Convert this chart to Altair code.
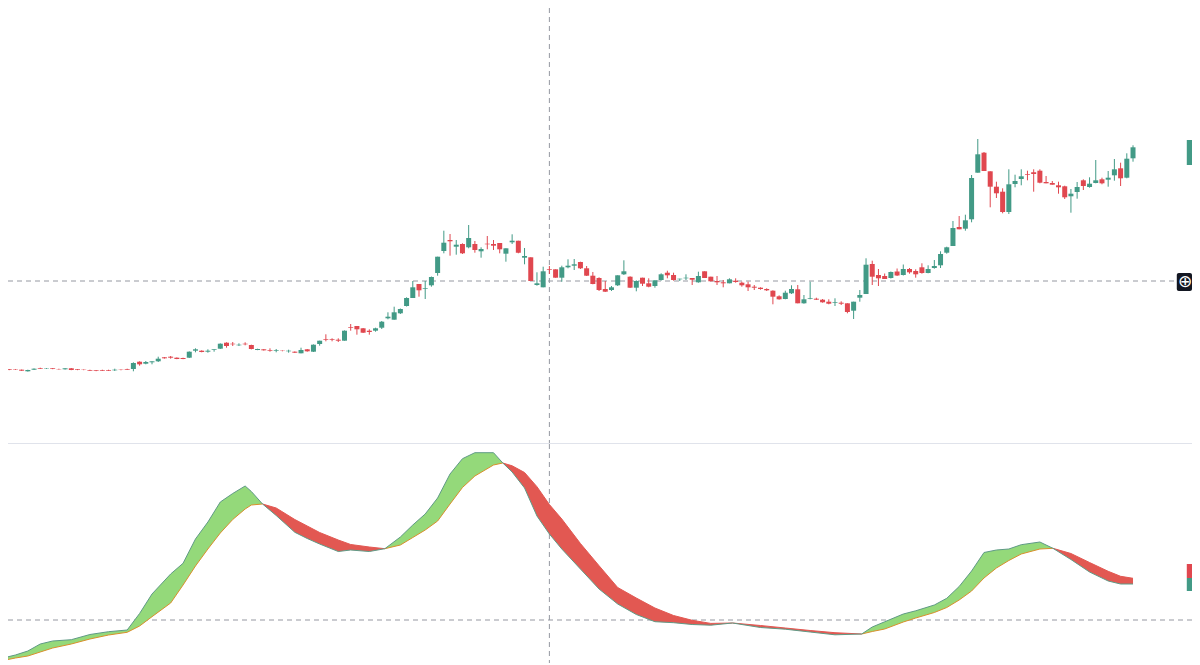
import altair as alt
import pandas as pd

UP = "#429a86"
DOWN = "#e0474f"

opens = [
    75, 74.7, 74.7, 74.3, 72.7, 74.3, 76, 75.3, 75.7, 75, 74.7, 75.7, 74.7, 74.3, 74, 73.7,
    74, 74, 73.7, 74.3, 75, 75, 82.3, 80.3, 81.7, 82.7, 86.7, 87.3, 86.3, 86, 86.3, 93.3,
    93.3, 92.3, 94, 95.3, 101.3, 100.3, 98.7, 100.3, 99, 94, 94.7, 94, 93, 93.3, 92.7, 92.3,
    90.7, 94.7, 92.3, 100, 105, 104.7, 104.3, 103.3, 116.7, 118, 115.7, 113.3, 113.3, 116.3, 125.7, 124.3,
    130.7, 138, 146, 160, 155, 158.7, 171, 193, 204, 197.3, 200, 196.7, 200, 192.7, 200.3, 200,
    201, 190.3, 201.7, 203.3, 186.3, 186.7, 159, 156.7, 174.7, 174.7, 166.3, 176.7, 178.3, 182, 175.7, 168.3,
    166, 155, 154, 158.7, 169.7, 167.3, 156.3,
    166.3, 160.7, 158, 164, 171.3, 169, 164.7, 165.7, 166, 161.7, 172.7, 167.3, 163, 161.7, 160.7, 163.3,
    161.3, 159.7, 157.3, 156.3, 155, 153.3, 147.7, 145, 150.7, 154.7, 140.7, 145, 145.3, 144.3, 142.3, 141,
    141.3, 140.7, 133.3, 146.3, 150, 180, 169,
    168, 166, 172.5, 169, 175, 173, 176.7, 171, 176, 178.7, 191.3, 198, 217, 215.3, 224.7, 271.3,
    291.3, 272.7, 257.3, 252.3, 232, 260, 265, 270, 271.7, 273.3, 262, 261, 258.7, 257.7, 247.7, 252,
    263.7, 257, 261, 264.7, 264.3, 268.7, 275.7, 266.3, 285.7,
]
highs = [
    75.3, 75, 75, 74.5, 74.3, 75.6, 76.3, 75.9, 76, 75.3, 75.9, 76, 75, 74.6, 74.3, 74,
    74.3, 74.3, 75.3, 74.6, 75.3, 81.7, 82.7, 83, 82.7, 87.3, 87, 88, 86.6, 86.3, 92.6, 95.7,
    93.7, 94.7, 94.7, 100.6, 101.7, 102, 100.7, 101.7, 99.3, 95.3, 95, 95.7, 95, 93.6, 94.3, 92.6,
    96.3, 95, 99.6, 103.3, 109.7, 105.7, 105.7, 113.6, 120, 118, 116, 114.7, 116.3, 123, 131.7, 137.3,
    135.5, 146.7, 163, 160, 163, 167.5, 187.3, 213.3, 210, 204, 200.7, 219, 203, 196.7, 208, 204,
    201, 195.7, 209.7, 203.3, 196, 186.7, 171.7, 177.3, 178, 174.7, 178.3, 184.7, 185, 182.3, 178, 172,
    166.7, 163, 158, 168.7, 183.7, 167.7, 163.7,
    166.3, 165.7, 163.7, 170.7, 173.3, 171.3, 165.3, 169.7, 166, 172.3, 172.7, 167.3, 168, 164, 165.7, 165.7,
    162.3, 162.3, 159, 156.7, 155.7, 153.7, 148.7, 153.3, 158.7, 159, 149, 162.3, 146.3, 145, 144.7, 145.7,
    142.7, 140.7, 142.3, 154, 185.7, 183.3, 175,
    170.5, 172.5, 175.5, 179.5, 176, 174.7, 180.7, 178.7, 184, 192.7, 197.3, 223, 228, 229.3, 269, 305,
    292, 272.7, 262.3, 255.7, 274.7, 269.3, 274.7, 273.3, 274.7, 274.7, 268, 263, 262.3, 258.3, 255, 262,
    264.7, 266.7, 284, 266.3, 273, 285, 281.3, 290.7, 298.7,
]
lows = [
    74.6, 73.8, 74.1, 73, 72.4, 74, 75, 75, 74.8, 74.4, 74.4, 73.8, 73.8, 73.8, 73, 72.8,
    73, 73, 73, 73.7, 74, 72.7, 78.3, 79.7, 79.7, 82, 85.4, 85.3, 84.8, 84.8, 86, 91.7,
    91.7, 91.3, 92.3, 95, 96.3, 98, 98, 98.7, 94.6, 93.8, 93.4, 92.3, 91.7, 92.7, 91.3, 91,
    90.7, 92.3, 92, 98.3, 102.7, 102.7, 102, 103.3, 113.3, 109.3, 111, 109.3, 112.3, 115, 124.7, 124.3,
    130, 137.5, 146, 147.3, 145, 157.3, 168.3, 190.7, 188.3, 189.3, 190, 195.7, 191.3, 186.3, 194.7, 194,
    190.7, 182.3, 200, 190.7, 179.7, 163, 158.3, 156.7, 170, 166.3, 162.3, 175.7, 174, 175, 168, 159.7,
    153, 152, 153, 158, 169, 156, 152.7,
    158, 156.7, 156.3, 163.3, 165.7, 163.3, 163, 164, 159, 161.3, 166, 162.7, 159, 156.7, 160.7, 161.3,
    157.3, 153, 154, 154.3, 153, 139.7, 144.3, 144.7, 150, 140.7, 140.3, 144.7, 144, 141.3, 139.7, 138,
    139, 130.7, 125, 142.3, 150, 159, 158,
    165, 165.5, 168, 168.5, 170.3, 166.3, 170.3, 170.7, 175.3, 176, 190.3, 198, 214.7, 213.3, 221.7, 271.3,
    273, 236.7, 246, 230.7, 230, 256.7, 258.7, 263.7, 252.3, 260.7, 260.7, 259.3, 250.3, 245, 231.3, 245.3,
    254, 256.3, 260.7, 259.7, 257.3, 263.3, 258, 265.7, 282.3,
]
closes = [
    74.7, 74, 74.3, 73.3, 74, 75.3, 75.3, 75.7, 75, 74.7, 75.7, 74, 74, 74, 73.3, 73,
    73.3, 73.3, 74.3, 74, 74.3, 81, 79.7, 82, 82.7, 85.3, 85.7, 86.3, 85, 85, 92.3, 94.7,
    92, 93.3, 94.7, 100.3, 98, 99.7, 99.3, 99.7, 95, 95, 93.7, 93.3, 93.7, 93, 93.3, 91.3,
    94, 92.7, 99.3, 103.3, 104.3, 104, 103.3, 113.3, 116, 114.7, 111.3, 112, 115.7, 122.3, 127.3, 131.7,
    135, 146, 156.7, 153.7, 155.7, 167, 187.3, 201.3, 202.7, 199.3, 190.7, 206, 194, 195, 199.7, 198.3,
    194.7, 195.7, 203.3, 191.3, 188, 163, 160.7, 172.7, 174, 166.3, 176.7, 178.3, 179.7, 175.7, 168.3, 160,
    154, 152.3, 156.7, 168.7, 172.7, 156.3, 163,
    160.3, 157.3, 163.7, 169.7, 168.7, 164, 165.3, 166.3, 164.3, 168, 166, 162.7, 161.7, 160.7, 164.7, 162,
    158.7, 156.7, 156.3, 155, 153.7, 147.3, 144.7, 151.3, 155, 140.7, 144.7, 145.7, 144.3, 141.7, 140.3, 141.7,
    140.3, 132, 142.3, 149, 179.3, 167.3, 165.7,
    165, 172, 168.5, 175, 171.7, 169.7, 171, 175, 178, 190, 196.7, 216, 214.7, 223.7, 266, 289.7,
    273, 257.3, 250.7, 232, 259.7, 263, 267.7, 269.3, 270, 261.3, 260.7, 259.3, 256.7, 246.7, 250.3, 257,
    258, 260.3, 263.7, 260.7, 266.3, 274.7, 265.7, 285.3, 296.7,
]

# indicator, read at these bars
osc_bars = [
    0, 2, 4, 6, 8, 11, 14, 17, 20, 22, 24, 27, 29, 31, 33, 35, 37, 39, 40, 41.8,
    44, 47, 49, 51, 54, 56, 59, 61.5, 64, 66, 68, 70, 72, 74, 76, 79, 80.5, 82, 84, 86,
    88, 90, 93, 96, 99, 102, 105, 108, 111, 114, 117.5, 122, 126, 130, 134, 138.3, 140, 142, 145, 147,
    150, 152, 154, 156, 158, 160, 162, 164, 167, 169.1, 172, 175, 178, 180, 182,
]
osc_fast = [
    7, 10, 14, 21, 24, 25.3, 30.5, 33.3, 35, 51.5, 71, 91, 101.7, 126, 143, 163, 171.5, 179, 173.5, 161,
    149.5, 132.7, 126.5, 121, 113.5, 115, 113.5, 116.3, 128, 140, 151, 167, 191, 206.3, 212.3, 212.3, 202, 193, 177, 149,
    131, 116, 96, 76, 61, 50.5, 43.3, 42.3, 40.5, 39.8, 42, 37.5, 35.8, 33, 30.2, 31, 38, 43.2, 51, 54.2,
    60, 66.7, 78.5, 94, 112.5, 115, 116, 120.3, 123, 116.7, 105.5, 93, 84, 81, 81,
]
osc_slow = [
    4.5, 7, 9, 13, 17, 21, 26, 30, 32.7, 39, 48.3, 62, 80, 99, 116, 132, 145.5, 156, 160, 161,
    157, 145.5, 139, 132.5, 125, 120.5, 118, 116.3, 120, 127.5, 135, 144, 161, 177.5, 189, 200, 202, 199.2, 192.5, 178.3,
    160.5, 146, 121.5, 99.3, 77.5, 67, 57, 49.5, 44.7, 41.6, 42, 39.5, 37, 34.5, 32.3, 31, 33.5, 36, 43, 47,
    52.5, 57.5, 65, 74, 87, 97, 104.5, 111, 116, 116.7, 111.5, 102.5, 93.7, 88.7, 86.7,
]

PRICE_NOW = 163
OSC_LEVEL = 45
CROSS_BAR = 88
X_DOMAIN = (0.805, 191.5)
MARKER_BAR = 190.66
ICON_BAR = 189.05


def bar_colour(field_up):
    return alt.Color(field_up, scale=alt.Scale(domain=[True, False], range=[UP, DOWN]), legend=None)


def x_axis(field="bar:Q"):
    # padding=0, bars otherwise pad the continuous scale
    return alt.X(field, scale=alt.Scale(domain=X_DOMAIN, padding=0), axis=None)


def cross_rule():
    return (
        alt.Chart(pd.DataFrame({"bar": [CROSS_BAR]}))
        .mark_rule(color="#9598a1", strokeDash=[5, 4], strokeWidth=1, clip=True)
        .encode(x=x_axis())
    )


def level_rule(value, y_axis):
    return (
        alt.Chart(pd.DataFrame({"v": [value]}))
        .mark_rule(color="#9598a1", strokeDash=[5, 4], strokeWidth=1, clip=True)
        .encode(y=y_axis("v:Q"))
    )


def price_panel():
    """Candles in the upper pane."""
    df = pd.DataFrame({"open": opens, "high": highs, "low": lows, "close": closes})
    df["bar"] = df.index
    df["up"] = df["close"] >= df["open"]

    price_y = lambda f: alt.Y(f, scale=alt.Scale(domain=(0, 436)), axis=None)

    wicks = (
        alt.Chart(df)
        .mark_rule(strokeWidth=1, clip=True)
        .encode(x=x_axis(), y=price_y("low:Q"), y2="high:Q", color=bar_colour("up:N"))
    )
    bodies = (
        alt.Chart(df)
        .mark_bar(size=5, clip=True)
        .encode(x=x_axis(), y=price_y("open:Q"), y2="close:Q", color=bar_colour("up:N"))
    )
    divider = (
        alt.Chart(pd.DataFrame({"v": [0.5]}))
        .mark_rule(color="#e0e3eb", strokeWidth=1, clip=True)
        .encode(y=price_y("v:Q"))
    )
    marker = (
        alt.Chart(pd.DataFrame({"bar": [MARKER_BAR], "bar2": [X_DOMAIN[1]], "a": [279], "b": [304]}))
        .mark_rect(color=UP, clip=True)
        .encode(x=x_axis(), x2="bar2:Q", y=price_y("a:Q"), y2="b:Q")
    )
    icon_box = (
        alt.Chart(pd.DataFrame({"bar": [ICON_BAR], "bar2": [X_DOMAIN[1]], "a": [153], "b": [171]}))
        .mark_rect(color="#131722", cornerRadius=2, clip=True)
        .encode(x=x_axis(), x2="bar2:Q", y=price_y("a:Q"), y2="b:Q")
    )
    icon = (
        alt.Chart(pd.DataFrame({"bar": [190.4], "v": [162], "t": ["⊕"]}))
        .mark_text(color="white", fontSize=17, font="DejaVu Sans", clip=True)
        .encode(x=x_axis(), y=price_y("v:Q"), text="t:N")
    )

    return alt.layer(
        level_rule(PRICE_NOW, price_y), cross_rule(), divider, wicks, bodies, marker, icon_box, icon
    ).properties(width=1184, height=436)


def osc_panel():
    """Two lines with the gap filled, green when fast is on top, red when not."""
    rows = []
    segment = 0
    for i, (bar, fast, slow) in enumerate(zip(osc_bars, osc_fast, osc_slow, strict=True)):
        rows.append({"bar": bar, "fast": fast, "slow": slow, "segment": segment})
        if fast == slow and 0 < i:
            segment += 1
            rows.append({"bar": bar, "fast": fast, "slow": slow, "segment": segment})
    df = pd.DataFrame(rows)
    df["up"] = df.groupby("segment")["fast"].transform("sum") > df.groupby("segment")["slow"].transform("sum")

    osc_y = lambda f: alt.Y(f, scale=alt.Scale(domain=(2, 221)), axis=None)
    fill = alt.Color("up:N", scale=alt.Scale(domain=[True, False], range=["#94d97a", "#e25852"]), legend=None)
    edge = alt.Color("up:N", scale=alt.Scale(domain=[True, False], range=["#d98f2b", "#e25852"]), legend=None)

    base = alt.Chart(df)
    area = base.mark_area(clip=True, opacity=1).encode(
        x=x_axis(), y=osc_y("fast:Q"), y2="slow:Q", color=fill, detail="segment:N"
    )
    slow_line = base.mark_line(strokeWidth=1, clip=True).encode(
        x=x_axis(), y=osc_y("slow:Q"), color=edge, detail="segment:N"
    )
    fast_line = base.mark_line(strokeWidth=1, color="#5f9a86", clip=True).encode(
        x=x_axis(), y=osc_y("fast:Q"), detail="segment:N"
    )
    markers = (
        alt.Chart(
            pd.DataFrame(
                {
                    "bar": [MARKER_BAR, MARKER_BAR],
                    "bar2": [X_DOMAIN[1], X_DOMAIN[1]],
                    "a": [87, 74],
                    "b": [101, 87],
                    "up": [False, True],
                }
            )
        )
        .mark_rect(clip=True)
        .encode(x=x_axis(), x2="bar2:Q", y=osc_y("a:Q"), y2="b:Q", color=bar_colour("up:N"))
    )

    return alt.layer(
        level_rule(OSC_LEVEL, osc_y), cross_rule(), area, slow_line, fast_line, markers
    ).resolve_scale(color="independent").properties(width=1184, height=219)


chart = (
    alt.vconcat(price_panel(), osc_panel(), spacing=0)
    .properties(padding=0, background="white")
    .configure_view(stroke="transparent", strokeWidth=0)
)
chart.save("out.html", embed_options={"renderer": "svg", "actions": False})
